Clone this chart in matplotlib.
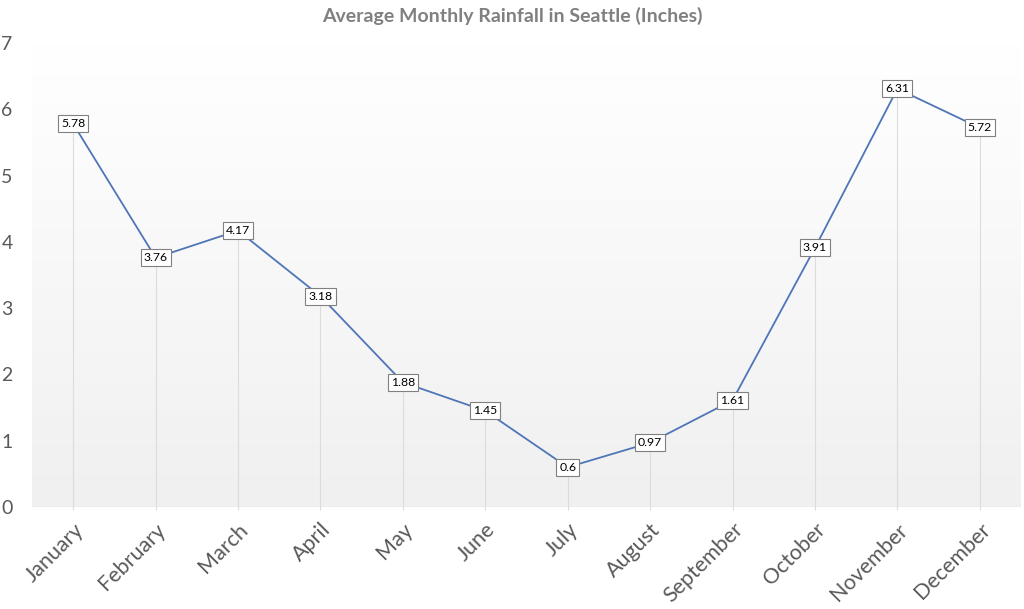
import matplotlib
matplotlib.use("Agg")
import matplotlib.pyplot as plt
import numpy as np
from matplotlib.colors import LinearSegmentedColormap

months = ["January", "February", "March", "April", "May", "June", "July",
          "August", "September", "October", "November", "December"]
rainfall = [5.78, 3.76, 4.17, 3.18, 1.88, 1.45, 0.6, 0.97, 1.61, 3.91, 6.31, 5.72]
yticks = [0, 1, 2, 3, 4, 5, 6, 7]
title = "Average Monthly Rainfall in Seattle (Inches)"

plt.rcParams['font.family'] = ['Lato', 'DejaVu Sans']

fig = plt.figure(figsize=(10.24, 6.09), dpi=100)
ax = fig.add_axes([32/1024, 1-507/609, (1021-32)/1024, (507-43)/609])

x = np.arange(len(months))
ax.set_xlim(-0.5, len(months) - 0.5)
ax.set_ylim(0, 7)

# gradient background: white at top, light gray at bottom
cmap = LinearSegmentedColormap.from_list("g", ["#f0f0f0", "#ffffff"])
grad = np.linspace(0, 1, 256).reshape(-1, 1)
ax.imshow(grad, aspect='auto', cmap=cmap, extent=[-0.5, len(months)-0.5, 0, 7],
          origin='lower', zorder=0, vmin=0, vmax=1)

# drop lines
ax.vlines(x, -0.05, rainfall, colors="#dcdcdc", linewidth=0.8, zorder=1, clip_on=False)
ax.axhline(0, color="#d9d9d9", linewidth=1, zorder=1)

ax.plot(x, rainfall, color="#4f75b8", linewidth=1.3, zorder=2)

for xi, v in zip(x, rainfall):
    ax.text(xi, v, f"{v:g}", ha='center', va='center', fontsize=8.8,
            color="black", zorder=3,
            bbox=dict(boxstyle="square,pad=0.25", fc="white", ec="#808080", lw=0.8))

ax.set_xticks(x)
ax.set_xticklabels(months, rotation=45, ha='right', rotation_mode='anchor',
                   fontsize=15.5, color="#595959")
ax.set_yticks(yticks)
ax.set_yticklabels([str(t) for t in yticks], fontsize=14, color="#595959")
ax.tick_params(axis='both', length=0)
ax.tick_params(axis='x', pad=9)
ax.tick_params(axis='y', pad=14)
for s in ax.spines.values():
    s.set_visible(False)

fig.text(0.5, 1-16/609, title, ha='center', va='center', fontsize=14,
         fontweight='bold', color="#808080")

fig.savefig("out.png", dpi=100)
